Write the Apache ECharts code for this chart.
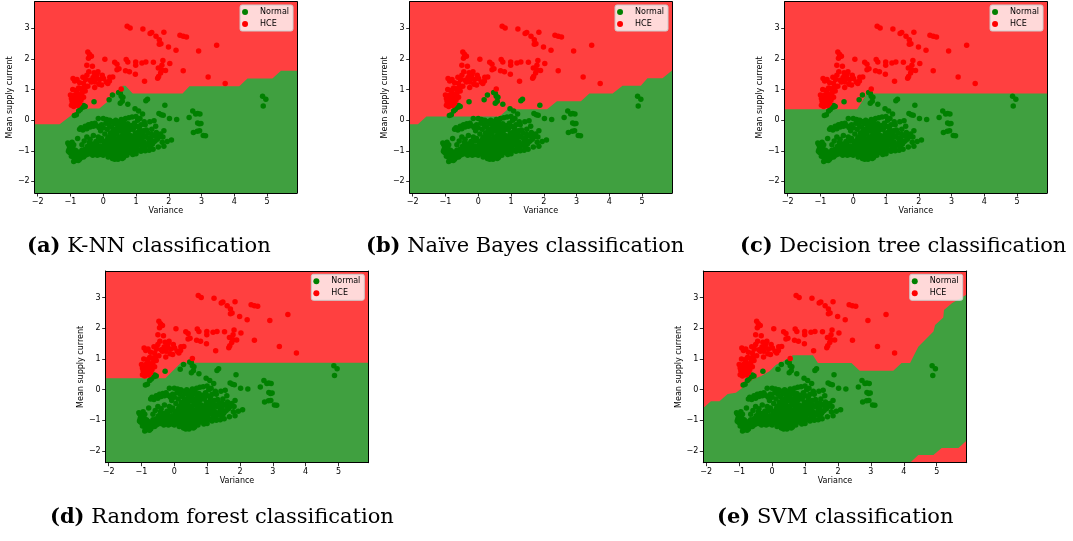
<!DOCTYPE html>
<html>
<head>
<meta charset="utf-8">
<script src="https://cdn.jsdelivr.net/npm/echarts@6/dist/echarts.min.js"></script>
<style>
  html, body { margin: 0; padding: 0; background: #ffffff; }
  #chart { width: 1073px; height: 541px; }
</style>
</head>
<body>
<div id="chart"></div>
<script>
// Scatter samples: [variance, mean supply current]
const normalPoints = [
  [-1.08,-0.75],[-1.05,-0.8],[-1.02,-0.85],[-1.0,-0.9],[-0.98,-0.95],[-1.06,-1.02],[-1.03,-1.05],[-0.99,-1.08],
  [-0.95,-1.1],[-0.92,-1.15],[-0.9,-1.2],[-0.88,-1.25],[-0.85,-1.3],[-0.9,-1.35],[-0.82,-1.3],[-0.8,-1.22],
  [-0.95,-1.0],[-0.92,-1.05],[-0.88,-1.1],[-0.85,-1.15],[-0.8,-1.12],[-0.78,-1.18],[-0.75,-1.25],[-0.72,-1.2],
  [-0.7,-1.15],[-0.68,-1.1],[-0.65,-1.18],[-0.62,-1.12],[-0.6,-1.2],[-0.58,-1.08],[-0.55,-1.15],[-0.52,-1.05],
  [-0.5,-1.12],[-0.85,-0.98],[-0.82,-1.02],[-0.78,-1.05],[-0.75,-1.08],[-0.97,-1.18],[-0.87,-1.08],[-0.83,-1.2],
  [-0.45,-1.02],[-0.42,-1.1],[-0.4,-0.95],[-0.36,-1.05],[-0.33,-0.98],[-0.3,-1.08],[-0.27,-0.92],[-0.25,-1.02],
  [-0.22,-0.96],[-0.2,-1.05],[-0.17,-0.88],[-0.15,-0.98],[-0.12,-1.08],[-0.1,-0.92],[-0.08,-0.85],[-0.05,-1.0],
  [-0.03,-0.9],[0.0,-0.95],[0.02,-0.82],[0.04,-1.05],[0.06,-0.88],[0.08,-0.98],[0.1,-0.78],[0.12,-0.92],
  [0.14,-1.1],[0.16,-0.85],[0.18,-0.72],[0.2,-1.0],[0.22,-0.9],[0.24,-0.68],[0.26,-1.18],[0.28,-0.82],
  [0.3,-0.95],[0.32,-1.05],[0.34,-0.75],[0.36,-0.6],[0.38,-0.88],[0.4,-1.12],[0.42,-0.98],[0.44,-0.7],
  [0.46,-0.82],[0.48,-1.2],[0.5,-0.92],[0.52,-0.55],[0.54,-1.05],[0.56,-0.78],[0.58,-0.65],[0.6,-0.88],
  [0.62,-1.0],[0.64,-0.45],[0.66,-0.72],[0.68,-1.1],[0.7,-0.58],[0.72,-0.85],[0.74,-0.95],[0.76,-0.38],
  [0.78,-0.68],[0.8,-1.05],[0.82,-0.5],[0.84,-0.8],[0.86,-0.9],[0.88,-0.3],[0.9,-0.62],[0.92,-1.0],
  [0.95,-0.75],[0.98,-0.42],[1.0,-0.88],[1.02,-0.55],[1.05,-0.95],[1.08,-0.68],[1.1,-0.25],[1.12,-0.8],
  [1.15,-0.48],[1.18,-0.62],[1.2,-0.9],[1.22,-0.35],[1.25,-0.72],[1.28,-0.15],[1.3,-0.55],[1.33,-0.82],
  [1.36,-0.42],[1.4,-0.7],[1.42,-0.05],[1.45,-0.6],[1.48,-0.3],[1.5,-0.78],[1.55,-0.5],[1.58,-0.68],
  [1.62,-0.4],[1.65,-0.62],[1.7,-0.55],[1.75,-0.45],[1.8,-0.72],[1.82,-0.55],[1.85,-0.35],
  [-0.88,0.15],[-0.82,0.18],[-0.75,0.3],[-0.7,0.35],[-0.62,0.42],[-0.6,0.48],[-0.55,0.45],[-0.72,-0.3],
  [-0.68,-0.25],[-0.62,-0.32],[-0.55,-0.2],[-0.5,-0.28],[-0.45,-0.15],[-0.4,-0.22],[-0.35,-0.12],[-0.3,-0.2],
  [-0.25,-0.1],[-0.2,-0.18],[-0.15,0.05],[-0.12,-0.25],[-0.08,-0.35],[-0.05,-0.15],[0.0,0.05],[0.0,-0.25],
  [0.05,-0.45],[0.08,-0.1],[0.1,0.02],[0.12,-0.3],[0.15,-0.55],[0.18,-0.15],[0.2,0.0],[0.22,-0.42],
  [0.25,-0.22],[0.28,-0.05],[0.3,-0.35],[0.32,-0.5],[0.35,-0.12],[0.38,0.0],[0.4,-0.28],[0.42,-0.45],
  [0.45,-0.18],[0.48,-0.05],[0.5,-0.35],[0.53,-0.25],[0.55,0.02],[0.58,-0.15],[0.6,-0.42],[0.63,-0.08],
  [0.65,-0.3],[0.68,0.05],[0.7,-0.2],[0.72,-0.48],[0.75,-0.12],[0.78,0.08],[0.8,-0.3],[0.85,-0.18],
  [0.88,0.1],[0.92,-0.28],[0.95,-0.1],[1.0,0.12],[1.02,-0.2],[1.05,0.0],[1.08,-0.38],[1.12,0.05],
  [1.15,-0.15],[1.2,0.2],[1.25,-0.05],[-0.95,-0.72],[-0.9,-0.8],[-0.78,-0.6],[-0.65,-0.8],[-0.58,-0.68],
  [-0.5,-0.55],[-0.48,-0.85],[-0.4,-0.62],[-0.35,-0.78],[-0.3,-0.5],[-0.22,-0.7],[-0.15,-0.55],[-0.1,-0.68],
  [-0.05,-0.6],[0.02,-0.7],
  [-0.28,0.6],[0.18,0.67],[0.28,0.82],[0.47,0.9],[0.52,0.88],[0.55,0.78],[0.6,0.75],[0.58,0.62],
  [0.52,0.55],[0.75,0.52],[0.97,0.37],[1.08,0.3],[1.3,0.63],[1.35,0.68],[1.88,0.49],[1.7,0.22],
  [1.77,0.18],[1.83,0.16],[2.02,0.05],[2.24,0.02],[2.62,0.09],[2.73,0.3],[2.82,0.2],[2.88,0.22],
  [2.95,0.2],[2.88,-0.09],[2.93,-0.12],[2.98,-0.11],[2.75,-0.4],[2.87,-0.36],[2.94,-0.35],[3.05,-0.5],
  [3.12,-0.51],[4.86,0.78],[4.96,0.68],[4.88,0.46],[1.55,-0.02],[1.6,-0.2],[1.68,-0.88],[1.85,-0.85],
  [2.08,-0.65],[1.95,-0.7],[1.52,-0.95],[1.4,-0.98],[1.28,-1.0],[1.15,-1.02],[0.58,-1.25],[0.35,-1.28],
  [0.15,-1.2],[0.72,-1.15],[0.9,-1.12],[1.0,-1.1],
  [-0.2,-0.78],[-0.1,-1.12],[0.0,-1.15],[0.05,-0.75],[0.1,-1.02],[0.13,-0.62],[0.17,-0.98],[0.21,-1.12],
  [0.25,-0.85],[0.27,-0.55],[0.31,-0.72],[0.33,-1.15],[0.37,-0.95],[0.39,-0.4],[0.41,-0.8],[0.43,-1.05],
  [0.47,-0.6],[0.49,-0.88],[0.51,-1.1],[0.53,-0.72],[0.57,-0.95],[0.59,-0.5],[0.61,-1.15],[0.63,-0.78],
  [0.67,-0.9],[0.69,-0.35],[0.71,-1.02],[0.73,-0.65],[0.77,-0.82],[0.79,-0.98],[0.81,-0.2],[0.83,-0.62],
  [0.87,-0.75],[0.89,-1.05],[0.93,-0.52],[0.96,-0.85],[0.99,-0.65],[1.03,-0.78],[1.06,-0.45],[1.1,-0.98],
  [1.13,-0.58],[1.17,-0.78],[1.23,-0.5],[1.27,-0.88],[1.32,-0.32],[1.38,-0.58],[1.44,-0.85],[1.47,-0.45],
  [1.53,-0.72],[1.6,-0.52],[-0.6,-1.02],[-0.55,-0.95],[-0.65,-0.98],[-0.7,-1.05],[-0.38,-0.85],[-0.32,-1.15],
  [-0.18,-1.15],[-0.28,-0.78],[-0.42,-0.72],[0.45,-1.28],[0.62,-1.22],[0.28,-1.25],[0.38,-1.2],[-1.04,-0.95],
  [-0.96,-0.85],[-0.93,-0.9],[-0.76,-1.32],[-0.72,-1.28],[-0.68,-1.22]
];

const hcePoints = [
  [0.73,3.07],[0.82,3.01],[1.21,2.98],[1.43,2.83],[1.61,2.74],[1.71,2.63],[1.85,2.87],[1.71,2.48],
  [1.99,2.39],[2.22,2.28],[2.34,2.77],[2.44,2.74],[2.54,2.72],[2.91,2.26],[3.46,2.45],[3.2,1.41],
  [3.72,1.2],[2.44,1.61],[2.03,1.85],[1.79,1.79],[1.79,1.63],[1.75,1.54],[1.69,1.43],[1.53,1.89],
  [1.3,1.9],[0.99,1.9],[0.99,1.79],[0.98,1.5],[1.26,1.27],[0.8,1.58],[0.68,1.61],[0.7,1.98],
  [0.75,1.9],[0.35,1.89],[0.42,1.83],[0.48,1.68],[0.05,1.99],[0.55,1.02],[0.29,1.41],[0.19,1.28],
  [0.09,1.25],[-0.13,1.17],[-0.16,1.58],[-0.19,1.5],[-0.21,1.39],[-0.31,1.39],[-0.36,1.25],[-0.47,2.23],
  [-0.42,2.15],[-0.36,2.09],[-0.5,1.79],[-0.33,1.76],[-0.44,1.58],[-0.5,1.47],[-0.54,1.33],[-0.6,1.2],
  [-0.57,1.07],[-0.47,1.11],[-0.62,0.96],[-0.69,0.82],[-0.74,0.71],[-0.77,0.6],[-0.92,1.36],[-0.87,1.28],
  [-0.8,1.33],[-0.72,1.22],[-1.0,0.82],[-0.97,0.71],[-0.97,0.49],[-0.9,0.57],[-0.84,0.67],[-0.87,0.82],
  [-0.8,0.92],[-0.82,0.74],[-0.74,0.82],[-0.67,1.03],[-0.11,1.33],[-0.03,1.47],[0.01,1.36],[0.14,1.2],
  [-0.26,1.07],[-0.95,0.62],[-0.9,0.45],[-0.85,0.52],[-0.78,0.48],[-0.82,0.98],[-0.75,1.05],[-0.65,0.88],
  [-0.6,0.75],[-0.55,0.95],[-0.4,1.3],[-0.25,1.25],[-0.05,1.15],[0.2,1.4],[-0.93,1.0],[-0.72,0.55],
  [-0.68,0.65],[-0.62,1.4],[-0.28,1.55],[-0.45,2.02],[0.42,1.65],[1.18,1.87],[1.82,1.95],[1.68,1.7],
  [1.76,2.5],[1.48,2.86],[1.9,1.62],[1.66,1.37]
];

// Axis extents and tick values
const xRange = [-2.09, 5.91];
const yRange = [-2.38, 3.87];
const xTicks = [-2, -1, 0, 1, 2, 3, 4, 5];
const yTicks = [-2, -1, 0, 1, 2, 3];

// Regions predicted as "Normal" by each classifier (polygon vertices, data units)
const knnRegion = [
  [-2.09,-2.38],[-2.09,-0.13],[-1.33,-0.13],[-0.95,0.18],[-0.7,0.33],[-0.4,0.38],[-0.12,0.38],
  [0.15,0.62],[0.35,0.85],[0.6,1.12],[0.68,1.12],[0.9,0.87],[2.42,0.87],[2.63,1.11],[4.15,1.11],
  [4.4,1.36],[5.16,1.36],[5.42,1.61],[5.91,1.61],[5.91,-2.38]
];
const bayesRegion = [
  [-2.09,-2.38],[-2.09,-0.13],[-1.84,-0.13],[-1.58,0.12],[0.65,0.12],[0.9,0.36],[2.1,0.36],
  [2.4,0.62],[3.13,0.62],[3.39,0.87],[4.1,0.87],[4.4,1.12],[4.96,1.12],[5.16,1.37],[5.62,1.37],
  [5.91,1.62],[5.91,-2.38]
];
const treeRegion = [
  [-2.09,-2.38],[-2.09,0.36],[0.12,0.36],[0.42,0.87],[5.91,0.87],[5.91,-2.38]
];
const forestRegion = [
  [-2.09,-2.38],[-2.09,0.37],[-0.27,0.37],[0.2,0.88],[5.91,0.88],[5.91,-2.38]
];
const svmRegion = [
  [-2.09,-2.38],[-2.09,-0.6],[-1.86,-0.38],[-1.6,-0.38],[-1.35,-0.14],[-1.1,-0.1],[-0.84,0.11],
  [-0.59,0.33],[-0.33,0.45],[-0.08,0.6],[0.12,0.81],[0.33,0.92],[0.63,1.12],[1.24,1.12],[1.39,0.87],
  [2.41,0.87],[2.66,0.62],[3.68,0.62],[3.93,0.87],[4.19,0.87],[4.44,1.4],[4.9,1.9],[4.95,2.11],
  [5.2,2.35],[5.22,2.6],[5.46,2.82],[5.91,3.1],[5.91,-1.66],[5.66,-1.9],[5.15,-1.9],[4.9,-2.13],
  [4.44,-2.13],[4.19,-2.38]
];

const seriesNames = ['Normal', 'HCE'];
const captionTags = ['(a)', '(b)', '(c)', '(d)', '(e)'];
const captionTexts = ['K-NN classification', 'Naïve Bayes classification', 'Decision tree classification',
                      'Random forest classification', 'SVM classification'];
const regions = [knnRegion, bayesRegion, treeRegion, forestRegion, svmRegion];

// Layout of the five panels (pixels)
const panels = [
  { left: 34.7,  top: 1.7, width: 262.3, height: 191.3, capLeft: 27,  capTop: 236 },
  { left: 409.7, top: 1.7, width: 262.3, height: 191.3, capLeft: 366, capTop: 236 },
  { left: 784.7, top: 1.7, width: 262.3, height: 191.3, capLeft: 740, capTop: 236 },
  { left: 105.7, top: 271, width: 262.6, height: 191.7, capLeft: 50,  capTop: 507 },
  { left: 703.3, top: 271, width: 263.4, height: 191.7, capLeft: 717, capTop: 507 }
];

const RED_BG = '#ff4040';
const GREEN_BG = '#40a040';
const NORMAL_COLOR = '#008000';
const HCE_COLOR = '#ff0000';
const SANS = 'DejaVu Sans';
const SERIF = 'DejaVu Serif';

const minusFmt = v => (v < 0 ? '\u2212' + Math.abs(v) : String(v));

const grid = [], xAxis = [], yAxis = [], series = [], legend = [], title = [];

panels.forEach((p, i) => {
  grid.push({
    left: p.left, top: p.top, width: p.width, height: p.height,
    show: true, backgroundColor: RED_BG, borderWidth: 0
  });

  const tickStyle = { show: true, inside: false, length: 3.5, lineStyle: { color: '#000', width: 0.8 } };
  const lineStyle = { show: true, onZero: false, lineStyle: { color: '#000', width: 1 } };
  const labelStyle = { color: '#000', fontSize: 8, fontFamily: SANS };

  xAxis.push({
    type: 'value', gridIndex: i, position: 'bottom', min: xRange[0], max: xRange[1], z: 10,
    splitLine: { show: false }, axisLine: lineStyle,
    axisTick: Object.assign({}, tickStyle, { customValues: xTicks }),
    axisLabel: Object.assign({}, labelStyle, { customValues: xTicks, formatter: minusFmt, margin: 5 }),
    name: 'Variance', nameLocation: 'middle', nameGap: 13,
    nameTextStyle: { color: '#000', fontSize: 8, fontFamily: SANS }
  });
  xAxis.push({
    type: 'value', gridIndex: i, position: 'top', min: xRange[0], max: xRange[1], z: 10,
    splitLine: { show: false }, axisLine: lineStyle, axisTick: { show: false }, axisLabel: { show: false }
  });
  yAxis.push({
    type: 'value', gridIndex: i, position: 'left', min: yRange[0], max: yRange[1], z: 10,
    splitLine: { show: false }, axisLine: lineStyle,
    axisTick: Object.assign({}, tickStyle, { customValues: yTicks }),
    axisLabel: Object.assign({}, labelStyle, { customValues: yTicks, formatter: minusFmt, margin: 5 }),
    name: 'Mean supply current', nameLocation: 'middle', nameGap: 18, nameRotate: 90,
    nameTextStyle: { color: '#000', fontSize: 8, fontFamily: SANS }
  });
  yAxis.push({
    type: 'value', gridIndex: i, position: 'right', min: yRange[0], max: yRange[1], z: 10,
    splitLine: { show: false }, axisLine: lineStyle, axisTick: { show: false }, axisLabel: { show: false }
  });

  const region = regions[i];
  series.push({
    type: 'custom', xAxisIndex: 2 * i, yAxisIndex: 2 * i, z: 1, silent: true,
    data: [0],
    renderItem: (params, api) => ({
      type: 'polygon',
      shape: { points: region.map(pt => api.coord(pt)) },
      style: { fill: GREEN_BG }
    })
  });
  series.push({
    type: 'scatter', name: seriesNames[0], xAxisIndex: 2 * i, yAxisIndex: 2 * i, z: 3,
    symbolSize: 5.5, itemStyle: { color: NORMAL_COLOR, opacity: 1 }, data: normalPoints, silent: true
  });
  series.push({
    type: 'scatter', name: seriesNames[1], xAxisIndex: 2 * i, yAxisIndex: 2 * i, z: 3,
    symbolSize: 5.5, itemStyle: { color: HCE_COLOR, opacity: 1 }, data: hcePoints, silent: true
  });

  legend.push({
    orient: 'vertical', right: 1073 - (p.left + p.width - 4), top: p.top + 3.3,
    data: seriesNames, icon: 'circle', itemWidth: 20, itemHeight: 6, itemGap: 2,
    padding: [2, 4, 2, 2], backgroundColor: 'rgba(255,255,255,0.8)',
    borderColor: '#cccccc', borderWidth: 1, borderRadius: 2, selectedMode: false,
    itemStyle: { opacity: 1 },
    textStyle: { color: '#000', fontSize: 8, fontFamily: SANS, lineHeight: 10 }
  });

  title.push({
    text: '{b|' + captionTags[i] + '} ' + captionTexts[i],
    left: p.capLeft, top: p.capTop, padding: 0,
    textStyle: {
      color: '#000', fontSize: 21, fontWeight: 'normal', fontFamily: SERIF,
      rich: { b: { fontWeight: 'bold', fontSize: 21, fontFamily: SERIF, color: '#000' } }
    }
  });
});

const chart = echarts.init(document.getElementById('chart'), null, { renderer: 'canvas' });
chart.setOption({
  backgroundColor: '#ffffff',
  animation: false,
  grid, xAxis, yAxis, series, legend, title
});
</script>
</body>
</html>
